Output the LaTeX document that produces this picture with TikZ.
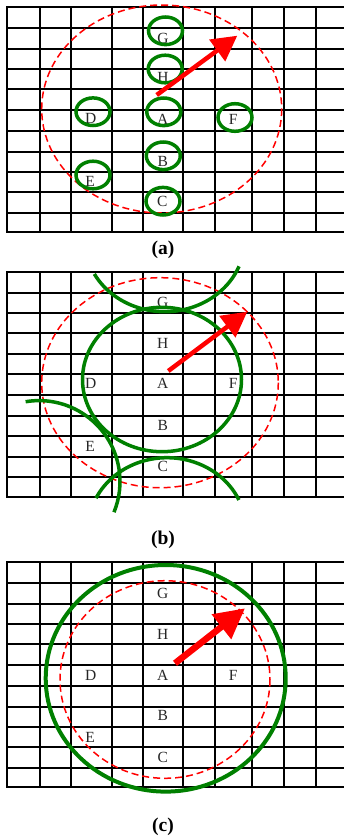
\documentclass[tikz,border=0pt]{standalone}
\usepackage{fontspec}
\setmainfont{Liberation Serif}
\usetikzlibrary{arrows.meta}
\begin{document}
\begin{tikzpicture}[x=1pt,y=-1pt,
 gridline/.style={line width=2.1pt, black, line cap=rect},
 reddash/.style={red, line width=1.5pt, dash pattern=on 7pt off 4pt},
 greenline/.style={draw=green!50!black, line width=3.5pt},
 lbl/.style={font=\fontsize{15.5}{16}\selectfont, inner sep=0pt, text=black!85},
 captext/.style={font=\fontsize{19.5}{20}\selectfont\bfseries, inner sep=0pt},
 redarrow/.style={red, line width=4.5pt, -{Triangle[length=25pt,width=26pt]}}]
\useasboundingbox (0,0) rectangle (344,839);
% grids
\foreach \oy in {0,264.4,555}{
  \foreach \y in {7.3,28.3,48.7,69,89.3,110,131,151.7,171.7,192.3,212.7,232.3}
    \draw[gridline] (7.3,\y+\oy) -- (346,\y+\oy);
  \foreach \x in {7.3,40,71,111.7,143.3,182.7,215,252.3,284,316}
    \draw[gridline] (\x,7.3+\oy) -- (\x,232.3+\oy);
}
% ---------- panel (a)
\draw[reddash] (161.7,109) ellipse [x radius=120, y radius=104];
\node[lbl] (aG) at (163,38.3) {G};
\node[lbl] (aH) at (163,77.3) {H};
\node[lbl] (aD) at (90.7,118.3) {D};
\node[lbl] (aA) at (162.7,119.3) {A};
\node[lbl] (aF) at (233.3,119.3) {F};
\node[lbl] (aB) at (162.7,161) {B};
\node[lbl] (aE) at (90,181.7) {E};
\node[lbl] (aC) at (162.3,201.7) {C};
\draw[greenline] (165.5,30.8) ellipse [x radius=17, y radius=13.8];
\draw[greenline] (165.2,69) ellipse [x radius=17, y radius=13.8];
\draw[greenline] (163.8,111.8) ellipse [x radius=17, y radius=13.8];
\draw[greenline] (93,111.7) ellipse [x radius=17, y radius=13.8];
\draw[greenline] (235,117.5) ellipse [x radius=17, y radius=13.8];
\draw[greenline] (163.3,155.8) ellipse [x radius=17, y radius=13.8];
\draw[greenline] (93,175) ellipse [x radius=17, y radius=13.8];
\draw[greenline] (163,201.2) ellipse [x radius=17, y radius=13.8];
\coordinate (aS) at (156.7,95);
\coordinate (aT) at (237.3,35.7);
\draw[redarrow] (aS) -- (aT);
\node[captext] (capA) at (163,250) {(a)};
% ---------- panel (b)
\draw[reddash] (160,382.7) ellipse [x radius=118.3, y radius=105];
\node[lbl] (bG) at (162.7,302.3) {G};
\node[lbl] (bH) at (162.7,343.3) {H};
\node[lbl] (bD) at (90.7,383.3) {D};
\node[lbl] (bA) at (162.7,383.3) {A};
\node[lbl] (bF) at (233.3,383.3) {F};
\node[lbl] (bB) at (162.7,425) {B};
\node[lbl] (bE) at (90,446) {E};
\node[lbl] (bC) at (162.7,466.7) {C};
\draw[greenline] (162,379.5) ellipse [x radius=79.5, y radius=72.2];
\draw[greenline] (164.7,239.7) ++(151.6:80 and 72) arc[start angle=151.6, end angle=21.7, x radius=80, y radius=72];
\draw[greenline] (167,529.7) ++(206:79 and 72) arc[start angle=206, end angle=335.6, x radius=79, y radius=72];
\draw[greenline] (39,481.6) ++(260.5:81) arc[start angle=260.5, end angle=382.2, radius=81];
\coordinate (bS) at (168.3,371);
\coordinate (bT) at (247.3,311.7);
\draw[redarrow] (bS) -- (bT);
\node[captext] (capB) at (163,540) {(b)};
% ---------- panel (c)
\draw[reddash] (165,679.5) ellipse [x radius=105, y radius=98.8];
\node[lbl] (cG) at (162.7,593.3) {G};
\node[lbl] (cH) at (162.7,634.3) {H};
\node[lbl] (cD) at (90.7,675.7) {D};
\node[lbl] (cA) at (162.7,675.7) {A};
\node[lbl] (cF) at (233.3,675.7) {F};
\node[lbl] (cB) at (162.7,715.7) {B};
\node[lbl] (cE) at (90,737.3) {E};
\node[lbl] (cC) at (162.7,757.3) {C};
\draw[greenline, line width=4pt] (165.7,678.3) ellipse [x radius=120, y radius=113.3];
\coordinate (cS) at (175,663.3);
\coordinate (cT) at (245,608.3);
\draw[redarrow, line width=6.5pt, -{Triangle[length=30pt,width=30pt]}] (cS) -- (cT);
\node[captext] (capC) at (163,827) {(c)};
\end{tikzpicture}
\end{document}
